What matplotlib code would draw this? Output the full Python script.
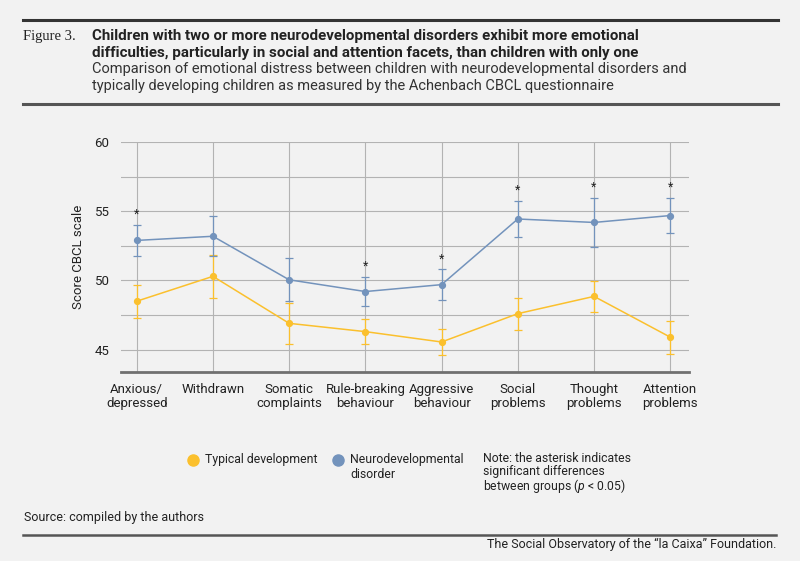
import matplotlib
matplotlib.use("Agg")
import matplotlib.pyplot as plt
import numpy as np

categories = ["Anxious/\ndepressed", "Withdrawn", "Somatic\ncomplaints", "Rule-breaking\nbehaviour",
              "Aggressive\nbehaviour", "Social\nproblems", "Thought\nproblems", "Attention\nproblems"]
typical = [48.5, 50.3, 46.9, 46.3, 45.55, 47.6, 48.85, 45.9]
typical_err = [1.2, 1.55, 1.5, 0.9, 0.95, 1.15, 1.1, 1.2]
neuro = [52.9, 53.2, 50.05, 49.2, 49.7, 54.45, 54.2, 54.7]
neuro_err = [1.1, 1.45, 1.55, 1.05, 1.1, 1.3, 1.75, 1.25]
significant = [True, False, False, True, True, True, True, True]
y_ticks = [45, 50, 55, 60]

BG = "#f2f2f2"
YEL = "#fbc02d"
BLU = "#7393bc"
TXT = "#222222"

plt.rcParams["font.family"] = ["Roboto", "DejaVu Sans"]
plt.rcParams["mathtext.fontset"] = "custom"
plt.rcParams["mathtext.it"] = "Roboto:italic"
plt.rcParams["mathtext.rm"] = "Roboto"

W, H = 800, 561
fig = plt.figure(figsize=(W / 100, H / 100), dpi=100, facecolor=BG)

def px(x, y):
    return x / W, 1 - y / H

ax = fig.add_axes([120.7 / W, 1 - 371.7 / H, (689.3 - 120.7) / W, (371.7 - 142.3) / H])
ax.set_facecolor(BG)
x = np.arange(len(categories))

ax.set_xlim(-0.21, 7.25)
ax.set_ylim(43.4, 60)
ax.set_yticks(y_ticks)
ax.set_yticks(np.arange(45, 60.1, 2.5), minor=True)
ax.set_xticks(x)
ax.set_xticklabels(categories, fontsize=9.5, color=TXT, linespacing=1.15)
ax.tick_params(axis="y", which="both", length=0, labelsize=9.5, labelcolor=TXT, pad=8)
ax.tick_params(axis="x", length=0, pad=8)
ax.grid(True, which="both", axis="y", color="#b3b3b3", lw=0.8)
ax.grid(True, axis="x", color="#b3b3b3", lw=0.8)
ax.set_axisbelow(True)
for s in ["top", "right", "left"]:
    ax.spines[s].set_visible(False)
ax.spines["bottom"].set_color("#707070")
ax.spines["bottom"].set_linewidth(2)
ax.set_ylabel("Score CBCL scale", fontsize=9.5, color=TXT, labelpad=7)

ax.errorbar(x, typical, yerr=typical_err, color=YEL, lw=1.1, marker="o", ms=4.2,
            capsize=2.6, elinewidth=0.9, capthick=0.9, zorder=3)
ax.errorbar(x, neuro, yerr=neuro_err, color=BLU, lw=1.1, marker="o", ms=4.2,
            capsize=2.6, elinewidth=0.9, capthick=0.9, zorder=3)
for i, sig in enumerate(significant):
    if sig:
        ax.text(x[i], neuro[i] + neuro_err[i] + 0.3, "*", ha="center", va="bottom",
                fontsize=9, color=TXT)

# Header
fig.add_artist(plt.Line2D([23 / W, 778 / W], [1 - 19.5 / H] * 2, color="#333333", lw=2.2))
fig.add_artist(plt.Line2D([23 / W, 778 / W], [1 - 104 / H] * 2, color="#555555", lw=2.2))
fig.text(*px(23, 40), "Figure 3.", family="Liberation Serif", fontsize=10.5, color=TXT, va="baseline")
fig.text(*px(92, 40), "Children with two or more neurodevelopmental disorders exhibit more emotional",
         fontsize=10.9, fontweight="bold", color=TXT, va="baseline")
fig.text(*px(92, 56.5), "difficulties, particularly in social and attention facets, than children with only one",
         fontsize=10.9, fontweight="bold", color=TXT, va="baseline")
fig.text(*px(92, 73), "Comparison of emotional distress between children with neurodevelopmental disorders and",
         fontsize=10.5, color="#333333", va="baseline")
fig.text(*px(92, 90), "typically developing children as measured by the Achenbach CBCL questionnaire",
         fontsize=10.5, color="#333333", va="baseline")

# Legend
fig.add_artist(plt.Line2D([192.7 / W], [1 - 460 / H], marker="o", ms=8, color=YEL, lw=0))
fig.text(*px(205, 460), "Typical development", fontsize=8.8, color=TXT, va="center")
fig.add_artist(plt.Line2D([338.3 / W], [1 - 460 / H], marker="o", ms=8, color=BLU, lw=0))
fig.text(*px(350, 460), "Neurodevelopmental", fontsize=8.8, color=TXT, va="center")
fig.text(*px(350, 474), "disorder", fontsize=8.8, color=TXT, va="center")
fig.text(*px(483, 458), "Note: the asterisk indicates", fontsize=8.8, color=TXT, va="center")
fig.text(*px(483, 472), "significant differences", fontsize=8.8, color=TXT, va="center")
fig.text(*px(483, 486), "between groups ($\\it{p}$ < 0.05)", fontsize=8.8, color=TXT, va="center")

# Footer
fig.text(*px(24, 518), "Source: compiled by the authors", fontsize=9, color=TXT, va="center")
fig.add_artist(plt.Line2D([23 / W, 776 / W], [1 - 534.5 / H] * 2, color="#555555", lw=1.8))
fig.text(*px(776, 544), "The Social Observatory of the \u201cla Caixa\u201d Foundation.", fontsize=9,
         color=TXT, va="center", ha="right")

fig.savefig("out.png", dpi=100, facecolor=BG)
